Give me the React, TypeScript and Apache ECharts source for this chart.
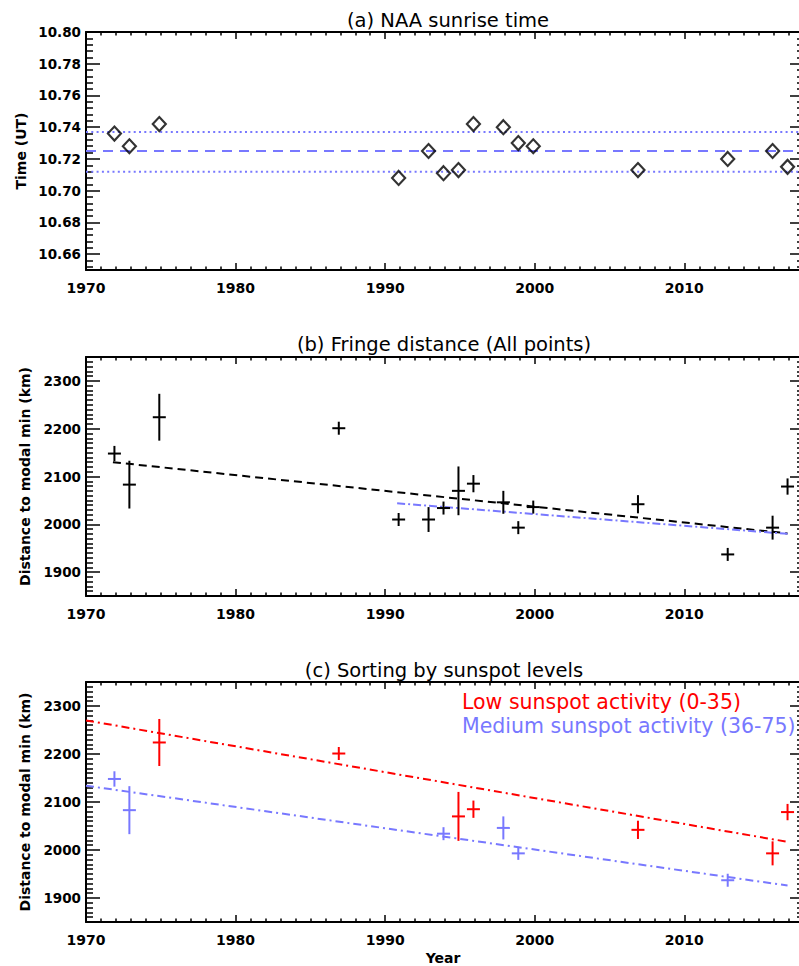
import React, { useEffect, useRef } from 'react';
import * as echarts from 'echarts';

// ---------- shared axis ----------
const X_MIN = 1970;
const X_MAX = 2018;
const xMajorTicks = [1970, 1980, 1990, 2000, 2010];

// ---------- panel (a) NAA sunrise time ----------
const sunriseYears = [1971.9, 1972.9, 1974.9, 1990.9, 1992.9, 1993.9, 1994.9, 1995.9, 1997.9, 1998.9, 1999.9, 2006.9, 2012.9, 2015.9, 2016.9];
const sunriseTimes = [10.736, 10.728, 10.742, 10.708, 10.725, 10.711, 10.713, 10.742, 10.740, 10.730, 10.728, 10.713, 10.720, 10.725, 10.715];
const sunriseMean = 10.725;
const sunriseBand = [10.712, 10.737];
const TIME_MIN = 10.65;
const TIME_MAX = 10.80;
const timeTicks = [10.66, 10.68, 10.70, 10.72, 10.74, 10.76, 10.78, 10.80];

// ---------- panel (b) fringe distance ----------
const fringeYears = [1971.9, 1972.9, 1974.9, 1986.9, 1990.9, 1992.9, 1993.9, 1994.9, 1995.9, 1997.9, 1998.9, 1999.9, 2006.9, 2012.9, 2015.9, 2016.9];
const fringeDist = [2148, 2083, 2224, 2201, 2010, 2010, 2034, 2070, 2085, 2046, 1993, 2036, 2042, 1937, 1993, 2079];
const fringeErr = [16, 50, 49, 6, 8, 26, 8, 51, 18, 24, 6, 6, 19, 6, 25, 17];
const sunspotLevel = ['med', 'med', 'low', 'low', 'high', 'high', 'med', 'low', 'low', 'med', 'med', 'high', 'low', 'med', 'low', 'low'];
const DIST_MIN = 1850;
const DIST_MAX = 2350;
const distTicks = [1900, 2000, 2100, 2200, 2300];

const fitAllX = [1971.8, 2016.9];
const fitAllY = [2130, 1981];
const fitRecentX = [1990.8, 2016.9];
const fitRecentY = [2044, 1980];

// ---------- panel (c) sorted by sunspot level ----------
const fitLowX = [1970, 2016.9];
const fitLowY = [2270, 2017];
const fitMedX = [1970, 2016.9];
const fitMedY = [2134, 1926];
const legendLabels = ['Low sunspot activity (0-35)', 'Medium sunspot activity (36-75)'];

const titles = ['(a) NAA sunrise time', '(b) Fringe distance (All points)', '(c) Sorting by sunspot levels'];

const BLUE = '#7878ff';
const RED = '#ff0000';
const FONT = 'DejaVu Sans';

const r = (v: number, d: number) => Math.round(v * Math.pow(10, d)) / Math.pow(10, d);

const xMinorTicks: number[] = [];
for (let y = 1971; y <= 2017; y++) if (y % 10 !== 0) xMinorTicks.push(y);
const timeMinorTicks: number[] = [];
for (let i = -2; i <= 35; i++) if (i % 5 !== 0) timeMinorTicks.push(r(10.66 + i * 0.004, 3));
const distMinorTicks: number[] = [];
for (let v = 1860; v <= 2340; v += 10) if (v % 100 !== 0) distMinorTicks.push(v);

const grids = [
  { left: 86, right: 0, top: 32, height: 238 },
  { left: 86, right: 0, top: 357, height: 239 },
  { left: 86, right: 0, top: 682, height: 240 },
];

function xAxesFor(g: number) {
  const base = { type: 'value', gridIndex: g, min: X_MIN, max: X_MAX, splitLine: { show: false } };
  const line = { show: true, onZero: false, lineStyle: { color: '#000', width: 2 } };
  const label = {
    show: true, customValues: xMajorTicks, color: '#000', fontFamily: FONT, fontWeight: 'bold', fontSize: 14, margin: 11,
    formatter: (v: number) => String(Math.round(v)),
  };
  return [
    { ...base, position: 'bottom', axisLine: line, axisTick: { show: true, inside: true, length: 7, customValues: xMajorTicks, lineStyle: { color: '#000', width: 1.5 } }, axisLabel: label },
    { ...base, position: 'top', axisLine: line, axisTick: { show: true, inside: true, length: 7, customValues: xMajorTicks, lineStyle: { color: '#000', width: 1.5 } }, axisLabel: { show: false } },
    { ...base, position: 'bottom', axisLine: { show: false }, axisTick: { show: true, inside: true, length: 3.5, customValues: xMinorTicks, lineStyle: { color: '#000', width: 1.5 } }, axisLabel: { show: false } },
    { ...base, position: 'top', axisLine: { show: false }, axisTick: { show: true, inside: true, length: 3.5, customValues: xMinorTicks, lineStyle: { color: '#000', width: 1.5 } }, axisLabel: { show: false } },
  ];
}

function yAxesFor(g: number, min: number, max: number, major: number[], minor: number[], digits: number) {
  const base = { type: 'value', gridIndex: g, min, max, splitLine: { show: false } };
  const line = { show: true, onZero: false, lineStyle: { color: '#000', width: 2 } };
  const label = {
    show: true, customValues: major, color: '#000', fontFamily: FONT, fontWeight: 'bold', fontSize: 13.5, margin: 5,
    formatter: (v: number) => v.toFixed(digits),
  };
  return [
    { ...base, position: 'left', axisLine: line, axisTick: { show: true, inside: true, length: 14, customValues: major, lineStyle: { color: '#000', width: 1.5 } }, axisLabel: label },
    { ...base, position: 'right', axisLine: line, axisTick: { show: true, inside: true, length: 14, customValues: major, lineStyle: { color: '#000', width: 1.5 } }, axisLabel: { show: false } },
    { ...base, position: 'left', axisLine: { show: false }, axisTick: { show: true, inside: true, length: 7, customValues: minor, lineStyle: { color: '#000', width: 1.5 } }, axisLabel: { show: false } },
    { ...base, position: 'right', axisLine: { show: false }, axisTick: { show: true, inside: true, length: 7, customValues: minor, lineStyle: { color: '#000', width: 1.5 } }, axisLabel: { show: false } },
  ];
}

function segment(g: number, xs: number[], ys: number[], color: string, dash: number[] | string) {
  return {
    type: 'line', xAxisIndex: g * 4, yAxisIndex: g * 4, symbol: 'none', silent: true, z: 2,
    data: xs.map((x, i) => [x, ys[i]]),
    lineStyle: { color, width: 2, type: dash },
  };
}

function crosses(g: number, data: number[][], color: string) {
  return {
    type: 'custom', xAxisIndex: g * 4, yAxisIndex: g * 4, z: 3, silent: true,
    encode: { x: 0, y: 1 },
    data,
    renderItem: (_p: any, api: any) => {
      const x = api.value(0);
      const y = api.value(1);
      const e = api.value(2);
      const c = api.coord([x, y]);
      const top = api.coord([x, y + e])[1];
      const bot = api.coord([x, y - e])[1];
      const h = 6.5;
      const t = Math.min(top, c[1] - h);
      const b = Math.max(bot, c[1] + h);
      return {
        type: 'group',
        children: [
          { type: 'line', shape: { x1: c[0] - h, y1: c[1], x2: c[0] + h, y2: c[1] }, style: { stroke: color, lineWidth: 2 } },
          { type: 'line', shape: { x1: c[0], y1: t, x2: c[0], y2: b }, style: { stroke: color, lineWidth: 2 } },
        ],
      };
    },
  };
}

export default function App() {
  const ref = useRef<HTMLDivElement>(null);
  useEffect(() => {
    document.body.style.margin = '0';
    if (!ref.current) return;
    const chart = echarts.init(ref.current, undefined, { renderer: 'svg' });

    const allData = fringeYears.map((x, i) => [x, fringeDist[i], fringeErr[i]]);
    const lowData = allData.filter((_, i) => sunspotLevel[i] === 'low');
    const medData = allData.filter((_, i) => sunspotLevel[i] === 'med');

    const option: any = {
      animation: false,
      backgroundColor: '#fff',
      grid: grids,
      xAxis: [...xAxesFor(0), ...xAxesFor(1), ...xAxesFor(2)],
      yAxis: [
        ...yAxesFor(0, TIME_MIN, TIME_MAX, timeTicks, timeMinorTicks, 2),
        ...yAxesFor(1, DIST_MIN, DIST_MAX, distTicks, distMinorTicks, 0),
        ...yAxesFor(2, DIST_MIN, DIST_MAX, distTicks, distMinorTicks, 0),
      ],
      series: [
        segment(0, [X_MIN, X_MAX], [sunriseMean, sunriseMean], BLUE, [10, 7]),
        segment(0, [X_MIN, X_MAX], [sunriseBand[0], sunriseBand[0]], BLUE, [2, 3.3]),
        segment(0, [X_MIN, X_MAX], [sunriseBand[1], sunriseBand[1]], BLUE, [2, 3.3]),
        {
          type: 'scatter', xAxisIndex: 0, yAxisIndex: 0, z: 3, silent: true,
          symbol: 'diamond', symbolSize: [13, 14],
          data: sunriseYears.map((x, i) => [x, sunriseTimes[i]]),
          itemStyle: { color: 'rgba(0,0,0,0)', borderColor: '#000', borderWidth: 2.2 },
        },
        segment(1, fitAllX, fitAllY, '#000', [8, 5]),
        segment(1, fitRecentX, fitRecentY, BLUE, [8, 3, 2, 3]),
        crosses(1, allData, '#000'),
        segment(2, fitLowX, fitLowY, RED, [8, 4, 2, 4]),
        segment(2, fitMedX, fitMedY, BLUE, [8, 4, 2, 4]),
        crosses(2, lowData, RED),
        crosses(2, medData, BLUE),
      ],
      graphic: [
        { type: 'text', x: 448, y: 20, style: { text: titles[0], align: 'center', verticalAlign: 'middle', font: `19.5px "${FONT}"`, fill: '#000' } },
        { type: 'text', x: 444, y: 344, style: { text: titles[1], align: 'center', verticalAlign: 'middle', font: `19.5px "${FONT}"`, fill: '#000' } },
        { type: 'text', x: 444, y: 670.5, style: { text: titles[2], align: 'center', verticalAlign: 'middle', font: `19.5px "${FONT}"`, fill: '#000' } },
        { type: 'text', x: 21, y: 151, rotation: Math.PI / 2, style: { text: 'Time (UT)', align: 'center', verticalAlign: 'middle', font: `bold 14px "${FONT}"`, fill: '#000' } },
        { type: 'text', x: 25, y: 476.5, rotation: Math.PI / 2, style: { text: 'Distance to modal min (km)', align: 'center', verticalAlign: 'middle', font: `bold 14px "${FONT}"`, fill: '#000' } },
        { type: 'text', x: 25, y: 802, rotation: Math.PI / 2, style: { text: 'Distance to modal min (km)', align: 'center', verticalAlign: 'middle', font: `bold 14px "${FONT}"`, fill: '#000' } },
        { type: 'text', x: 443, y: 958, style: { text: 'Year', align: 'center', verticalAlign: 'middle', font: `bold 14px "${FONT}"`, fill: '#000' } },
        { type: 'text', x: 462, y: 702, style: { text: legendLabels[0], align: 'left', verticalAlign: 'middle', font: `20.5px "${FONT}"`, fill: RED } },
        { type: 'text', x: 462, y: 725.5, style: { text: legendLabels[1], align: 'left', verticalAlign: 'middle', font: `20.5px "${FONT}"`, fill: BLUE } },
      ],
    };
    chart.setOption(option);
    return () => chart.dispose();
  }, []);

  return (
    <div style={{ width: 799, height: 966, overflow: 'hidden', position: 'relative', background: '#fff' }}>
      <div ref={ref} style={{ width: 804, height: 966 }} />
    </div>
  );
}
